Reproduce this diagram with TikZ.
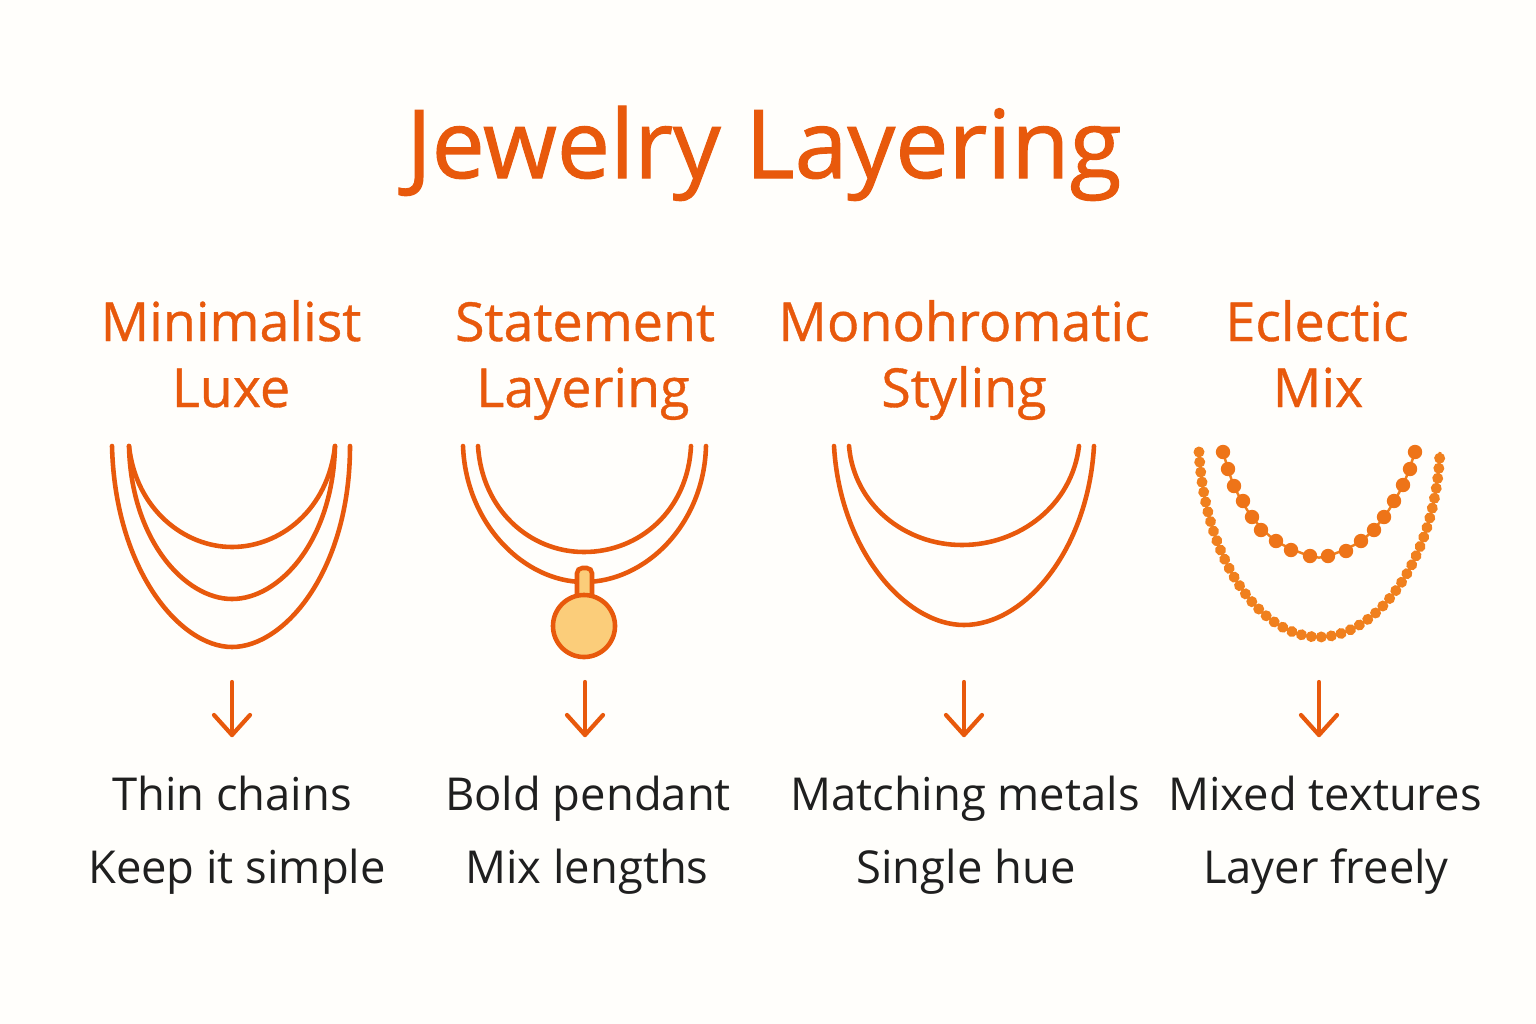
\documentclass[tikz,border=0pt]{standalone}
\usepackage{fontspec}
\usepackage{tikz}
\usetikzlibrary{decorations.markings}
\setmainfont{Open Sans}
\newfontfamily\titlefont[FakeBold=1.1]{Open Sans}
\newfontfamily\headfont[FakeBold=0.7]{Open Sans}
\definecolor{rust}{HTML}{E8590C}
\definecolor{bead}{HTML}{F0801E}
\definecolor{gold}{HTML}{FBCD7A}
\definecolor{paper}{HTML}{FFFEFB}
\tikzset{
	title/.style={text=rust,anchor=base,font=\titlefont\fontsize{27}{32}\selectfont},
	head/.style={text=rust,anchor=base,font=\headfont\fontsize{15.3}{19}\selectfont},
	note/.style={text=black!88,anchor=base,font=\fontsize{12.9}{16}\selectfont},
	chain/.style={draw=rust,line width=1.3pt,line cap=round},
	down/.style={draw=rust,line width=1.2pt,line cap=round,line join=round},
	beads/.style={draw=bead,line width=0.8pt,postaction={decorate,decoration={markings,
		mark=between positions 0 and 1 step 0.021 with {\fill[bead] (0,0) circle (0.055cm);}}}},
}
\begin{document}
\begin{tikzpicture}[x=0.01cm,y=-0.01cm]
	
	\fill[paper] (0,0) rectangle (1536,1024);
	\useasboundingbox (0,0) rectangle (1536,1024);
	
	\node[title] (t) at (764,178) {Jewelry Layering};
	
	\node[head] (h1a) at (231,341) {Minimalist};
	\node[head] (h1b) at (231,407) {Luxe};
	\node[head] (h2a) at (585,341) {Statement};
	\node[head] (h2b) at (583,407) {Layering};
	\node[head] (h3a) at (964,341) {Monohromatic};
	\node[head] (h3b) at (964,407) {Styling};
	\node[head] (h4a) at (1317,341) {Eclectic};
	\node[head] (h4b) at (1318,407) {Mix};
	
	% minimalist
	\draw[chain] (129,446) .. controls (136,510) and (185,547) .. (232,547) .. controls (280,547) and (328,510) .. (335,446);
	\draw[chain] (129,446) .. controls (131,540) and (185,599) .. (232,599) .. controls (280,599) and (333,540) .. (335,446);
	\draw[chain] (112,446) .. controls (115,570) and (180,647) .. (232,647) .. controls (285,647) and (350,570) .. (350,446);
	
	% statement
	\draw[chain] (478,446) .. controls (482,510) and (530,552) .. (584,552) .. controls (640,552) and (688,510) .. (691,446);
	\draw[chain] (463,446) .. controls (466,525) and (525,582) .. (584,582) .. controls (645,582) and (704,525) .. (706,446);
	\draw[chain,fill=gold,rounded corners=1.5pt] (577,600) -- (577,568) -- (592,568) -- (592,600) -- cycle;
	\node[circle,draw=rust,fill=gold,line width=1.3pt,minimum size=0.62cm,inner sep=0pt] (p) at (584,626) {};
	
	% monochromatic
	\draw[chain] (849,446) .. controls (854,505) and (905,545) .. (962,545) .. controls (1020,545) and (1072,505) .. (1079,446);
	\draw[chain] (834,446) .. controls (840,550) and (905,625) .. (964,625) .. controls (1025,625) and (1088,550) .. (1094,446);
	
	% eclectic
	\draw[beads] (1199,452) .. controls (1205,560) and (1260,637) .. (1319,637) .. controls (1378,637) and (1435,560) .. (1440,452);
	\draw[bead,line width=0.7pt] plot[smooth] coordinates {(1223,452) (1234,486) (1252,517) (1276,541) (1310,556) (1328,556) (1361,541) (1384,517) (1403,485) (1415,452)};
	\foreach \x/\y in {1223/452,1228/469,1234/486,1243/501,1252/517,1261/530,1276/541,1291/550,1310/556,1328/556,1346/551,1361/541,1374/530,1384/517,1394/501,1403/485,1410/469,1415/452}
		\fill[bead!70!rust] (\x,\y) circle (0.072cm);
	
	% arrows
	\foreach \n/\x in {a/232,b/585,c/964,d/1319} {
		\coordinate (\n s) at (\x,682);
		\coordinate (\n e) at (\x,735);
		\coordinate (\n l) at (\x-18,715);
		\coordinate (\n r) at (\x+18,715);
		\draw[down] (\n s) -- (\n e);
		\draw[down] (\n l) -- (\n e) -- (\n r);
	}
	
	\node[note] (n1a) at (232,810) {Thin chains};
	\node[note] (n1b) at (237,883) {Keep it simple};
	\node[note] (n2a) at (588,810) {Bold pendant};
	\node[note] (n2b) at (587,883) {Mix lengths};
	\node[note] (n3a) at (965,810) {Matching metals};
	\node[note] (n3b) at (966,883) {Single hue};
	\node[note] (n4a) at (1325,810) {Mixed textures};
	\node[note] (n4b) at (1326,883) {Layer freely};
	
\end{tikzpicture}
\end{document}
